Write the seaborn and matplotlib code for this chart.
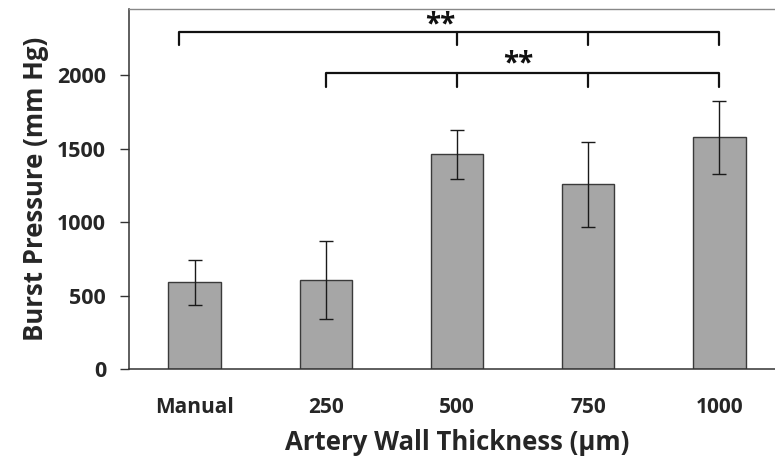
import matplotlib
matplotlib.use("Agg")
import matplotlib.pyplot as plt
import seaborn as sns
import pandas as pd
import numpy as np

categories = ["Manual", "250", "500", "750", "1000"]
burst_pressure = [590, 603, 1460, 1256, 1576]
error = [153, 265, 167, 290, 247]

sns.set_style("white")
plt.rcParams['font.family'] = ['Open Sans', 'DejaVu Sans']

df = pd.DataFrame({"Thickness": categories, "Pressure": burst_pressure})

fig = plt.figure(figsize=(7.75, 4.68), dpi=100)
ax = fig.add_axes([129/775, 1-369/468, 656/775, 360/468])

sns.barplot(data=df, x="Thickness", y="Pressure", order=categories,
            color="#A6A6A6", edgecolor="#3a3a3a", linewidth=1.0,
            width=0.4, errorbar=None, saturation=1, ax=ax)
xs = np.arange(len(categories))
ax.errorbar(xs, burst_pressure, yerr=error, fmt="none", ecolor="#1a1a1a",
            elinewidth=1.0, capsize=5, capthick=1.0)

ax.set_xlim(-0.5, len(categories)-0.5)
ax.set_ylim(0, 2450)
ax.set_yticks([0, 500, 1000, 1500, 2000])
ax.set_yticklabels(["0", "500", "1000", "1500", "2000"], fontsize=15.5, fontweight="bold")
ax.set_xticks(xs)
ax.set_xticklabels(categories, fontsize=15, fontweight="bold")
ax.set_xticks(np.arange(-0.5, len(categories)), minor=True)
ax.tick_params(axis="x", which="major", length=0, pad=20)
ax.tick_params(axis="x", which="minor", length=6, width=1, color="#333333", direction="out")
ax.tick_params(axis="y", which="major", length=6.5, width=1, color="#333333", direction="out", left=True, pad=10)

ax.set_xlabel("Artery Wall Thickness (\u03bcm)", fontsize=18.5, fontweight="bold", labelpad=8)
ax.set_ylabel("Burst Pressure (mm Hg)", fontsize=18.5, fontweight="bold", labelpad=6)

for s in ["left", "bottom"]:
    ax.spines[s].set_color("#333333")
    ax.spines[s].set_linewidth(1.1)
ax.spines["top"].set_color("#888888")
ax.spines["top"].set_linewidth(1.0)
ax.spines["right"].set_visible(False)

# significance brackets
def bracket(x0, xticks, y, drop, label, label_x, label_y):
    ax.plot([x0, xticks[-1]], [y, y], color="#111111", lw=1.6, solid_capstyle="butt")
    ax.plot([x0, x0], [y, y-drop], color="#111111", lw=1.6)
    for xt in xticks:
        ax.plot([xt, xt], [y, y-drop], color="#111111", lw=1.6)
    ax.text(label_x, label_y, label, ha="center", va="baseline", fontsize=20,
            fontweight="bold", color="#111111")

bracket(-0.12, [2, 3, 4], 2295, 90, "**", 1.87, 2292)
bracket(1, [2, 3, 4], 2016, 100, "**", 2.47, 2027)

fig.savefig("out.png", dpi=100)
